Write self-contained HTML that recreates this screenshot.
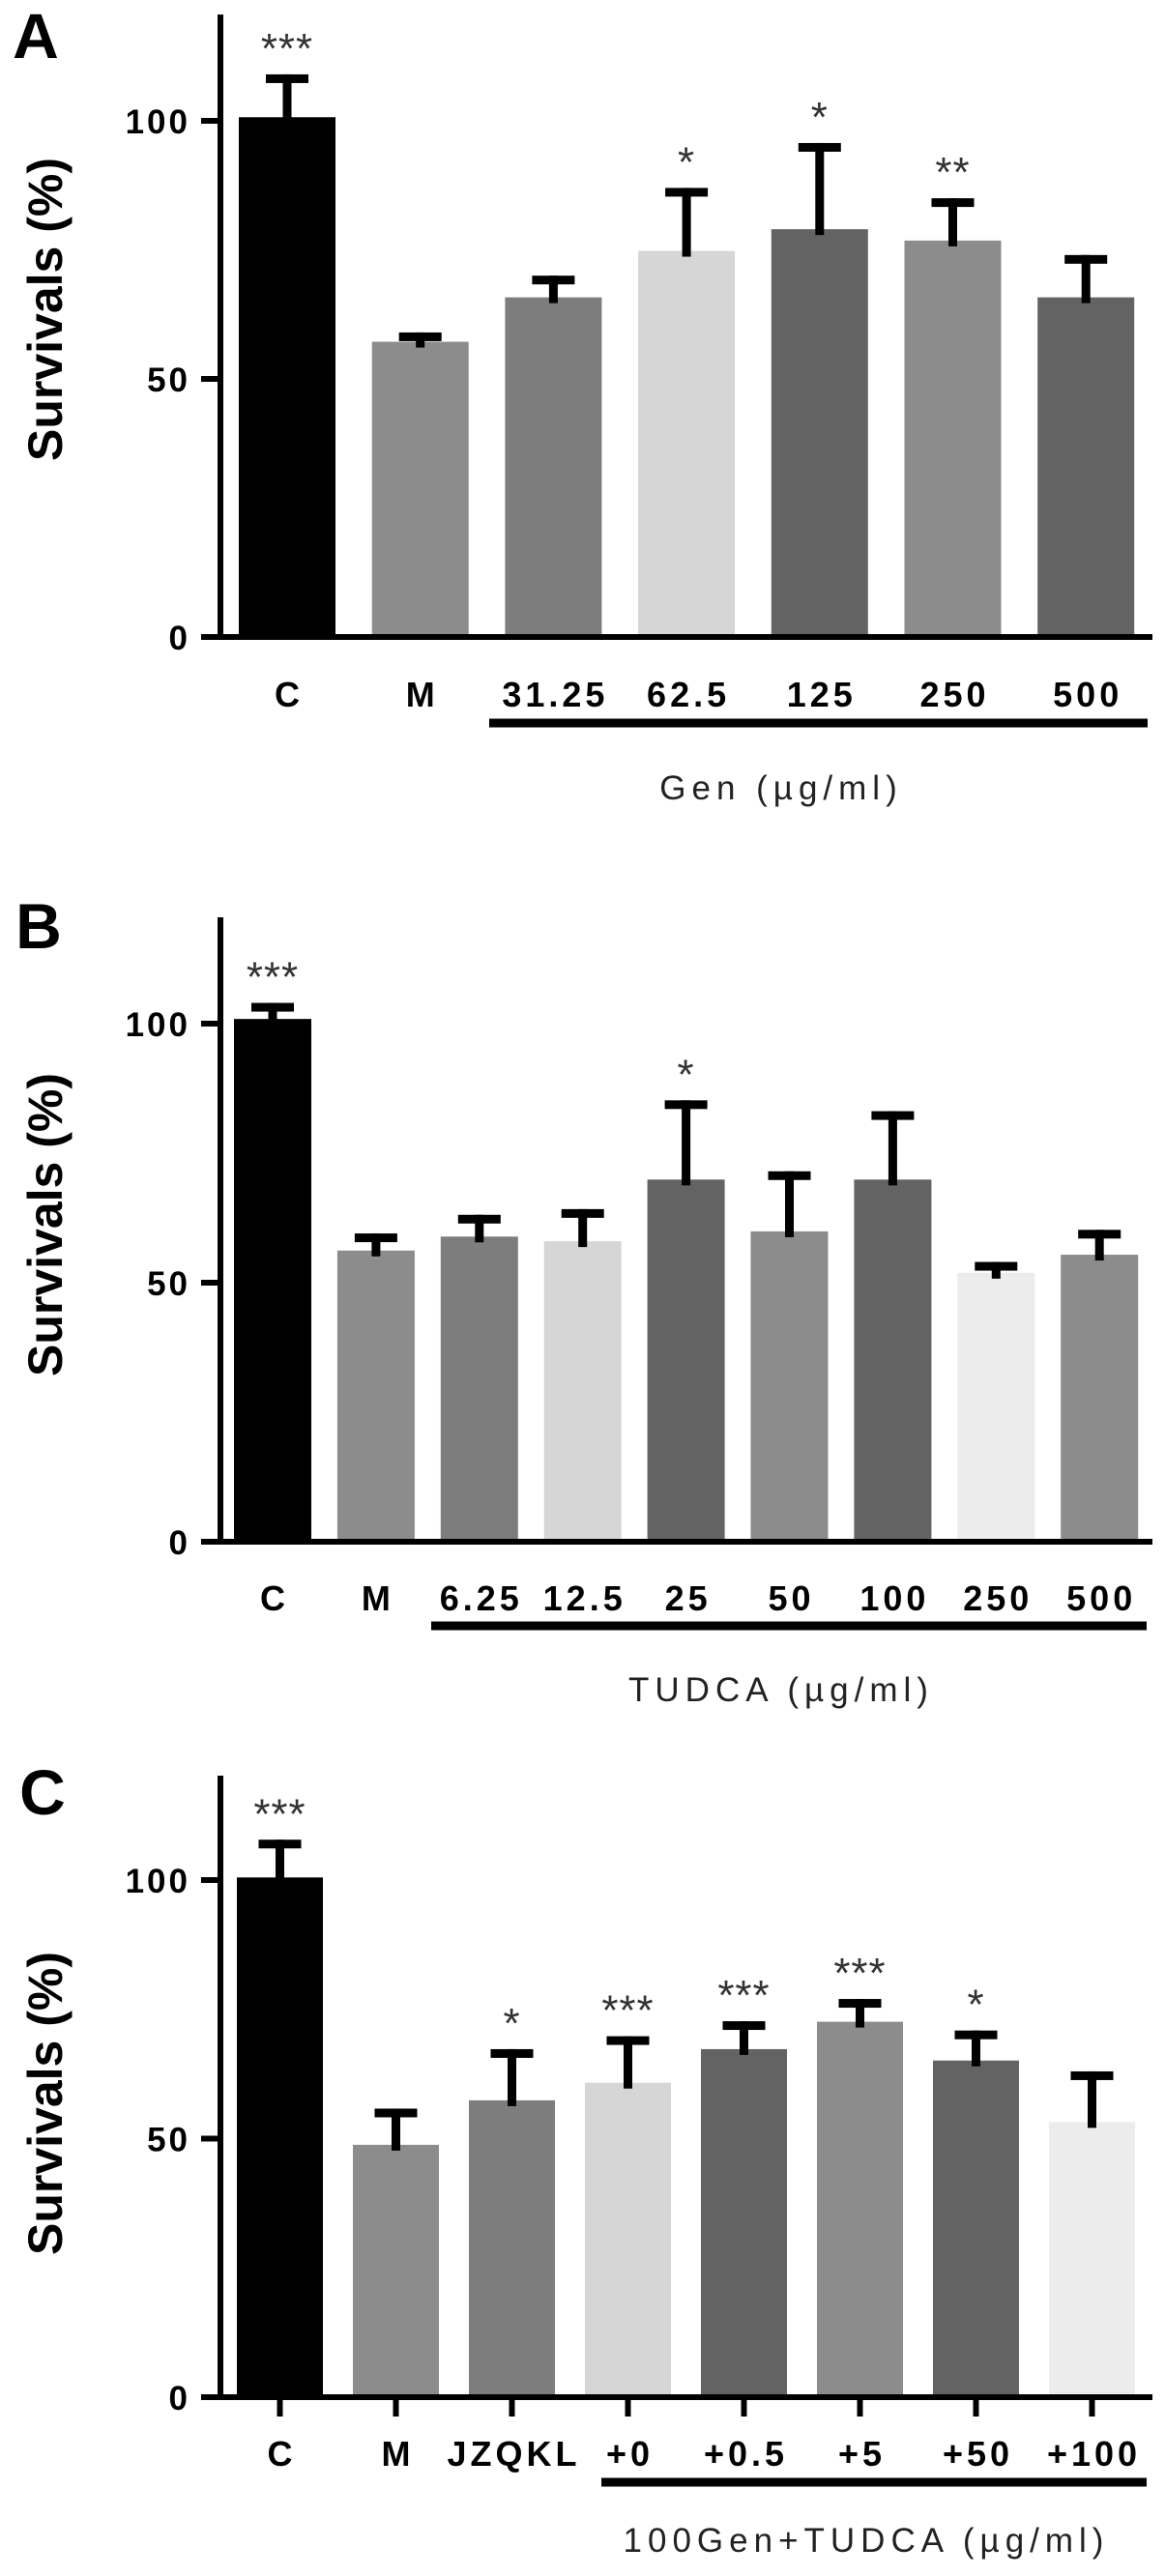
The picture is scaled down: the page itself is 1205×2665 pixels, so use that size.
<!DOCTYPE html>
<html><head><meta charset="utf-8"><style>
html,body{margin:0;padding:0;background:#fff;}
svg{display:block;}
text{font-family:"Liberation Sans",Arial,sans-serif;}
</style></head><body>
<svg id="fig" width="1205" height="2665" viewBox="0 0 1205 2665" xmlns="http://www.w3.org/2000/svg"></svg>
<script>
// ---- Panel A data ----
const catsA = ["C","M","31.25","62.5","125","250","500"];
const valsA = [100.7,57.2,65.8,74.8,79,76.8,65.8];
const errsA = [109,59,70,87,95.7,85,74];
const starsA = ["***","","","*","*","**",""];
// ---- Panel B data ----
const catsB = ["C","M","6.25","12.5","25","50","100","250","500"];
const valsB = [100.9,56.2,58.9,58,69.9,59.9,69.9,51.9,55.4];
const errsB = [104,59.5,63.1,64.2,85.2,71.5,83.1,54,60.2];
const starsB = ["***","","","","*","","","",""];
// ---- Panel C data ----
const catsC = ["C","M","JZQKL","+0","+0.5","+5","+50","+100"];
const valsC = [100.5,48.8,57.4,60.8,67.3,72.6,65.1,53.2];
const errsC = [107.8,55.8,67.3,69.8,72.7,77,70.9,63];
const starsC = ["***","","*","***","***","***","*",""];
const yTicks = [0,50,100];

const colorsA = ["#000","#8c8c8c","#7d7d7d","#d6d6d6","#636363","#8c8c8c","#636363"];
const colorsB = ["#000","#8c8c8c","#7d7d7d","#d6d6d6","#636363","#8c8c8c","#636363","#ececec","#8c8c8c"];
const colorsC = ["#000","#8c8c8c","#7d7d7d","#d6d6d6","#636363","#8c8c8c","#636363","#ececec"];

const NS="http://www.w3.org/2000/svg";
const svg=document.getElementById('fig');
function mk(tag,attrs,parent){const e=document.createElementNS(NS,tag);for(const k in attrs)e.setAttribute(k,attrs[k]);(parent||svg).appendChild(e);return e;}

function panel(p){
  const g=mk('g',{});
  
  
  const unit=(p.y0-p.y100)/100;
  const yS=v=>p.y0-v*unit;
  const xL=i=>p.bar0+i*p.pitch;
  const xC=i=>xL(i)+p.barW/2;
  const pl=mk('text',{x:p.lx,y:p.ly,'font-size':66,'font-weight':'bold','text-anchor':'middle'},g);
  pl.textContent=p.id;
  
  
  const yt=mk('text',{x:0,y:0,'font-size':50,'font-weight':'bold','text-anchor':'middle',transform:`translate(${p.tx+18},${p.ty}) rotate(-90)`},g);
  yt.textContent="Survivals (%)";
  
  
  p.vals.forEach((v,i)=>{
    const b=mk('rect',{x:xL(i),y:yS(v),width:p.barW,height:p.y0-yS(v),fill:p.colors[i]},g);
    
    
    const e=p.errs[i];
    const el=mk('rect',{x:xC(i)-4.5,y:yS(e),width:9,height:yS(v)-yS(e)+6,fill:'#000'},g);
    
    
    const cap=mk('rect',{x:xC(i)-22,y:yS(e),width:44,height:9,fill:'#000'},g);
    
    
    if(p.stars[i]){
      const s=mk('text',{x:xC(i),y:yS(e)-12,'font-size':44,fill:'#333','text-anchor':'middle','letter-spacing':1},g);
      s.textContent=p.stars[i];
      
      
    }
    if(p.ticks){
      const t=mk('rect',{x:xC(i)-3,y:p.y0,width:6,height:20,fill:'#000'},g);
      
      
    }
    const lb=mk('text',{x:xC(i)+2,y:p.labY,'font-size':36,'font-weight':'bold','text-anchor':'middle','letter-spacing':4},g);
    lb.textContent=p.cats[i];
    
    
  });
  const ya=mk('rect',{x:225,y:p.top,width:6,height:p.y0-p.top+3,fill:'#000'},g);
  
  
  const xa=mk('rect',{x:208,y:p.y0-3,width:p.xEnd-208,height:6,fill:'#000'},g);
  
  
  yTicks.forEach(t=>{
    const tk=mk('rect',{x:208,y:yS(t)-3,width:20,height:6,fill:'#000'},g);
    
    
    const tl=mk('text',{x:197,y:yS(t)+13,'font-size':35,'font-weight':'bold','text-anchor':'end','letter-spacing':3},g);
    tl.textContent=t;
    
    
  });
  const ul=mk('rect',{x:p.u0,y:p.uy-4.5,width:p.u1-p.u0,height:9,fill:'#000'},g);
  
  
  const gt=mk('text',{x:p.gx,y:p.gy,'font-size':35,'text-anchor':'middle','letter-spacing':6,fill:'#222'},g);
  gt.textContent=p.title;
  
  
}

panel({id:"A",cats:catsA,vals:valsA,errs:errsA,stars:starsA,colors:colorsA,
  y0:659,y100:125,top:15,bar0:247,pitch:137.7,barW:100,xEnd:1192,labY:731,
  u0:506,u1:1187,uy:748,title:"Gen (µg/ml)",gx:808,gy:827,lx:37,ly:60,tx:46,ty:320,ticks:false});
panel({id:"B",cats:catsB,vals:valsB,errs:errsB,stars:starsB,colors:colorsB,
  y0:1595,y100:1059,top:949,bar0:242,pitch:106.9,barW:80,xEnd:1192,labY:1666,
  u0:446,u1:1186,uy:1682,title:"TUDCA (µg/ml)",gx:808,gy:1760,lx:40,ly:981,tx:46,ty:1267,ticks:false});
panel({id:"C",cats:catsC,vals:valsC,errs:errsC,stars:starsC,colors:colorsC,
  y0:2480,y100:1945,top:1837,bar0:245,pitch:120,barW:89,xEnd:1192,labY:2551,
  u0:622,u1:1186,uy:2568,title:"100Gen+TUDCA (µg/ml)",gx:896,gy:2640,lx:44,ly:1877,tx:46,ty:2176,ticks:true});
</script>
</body></html>
